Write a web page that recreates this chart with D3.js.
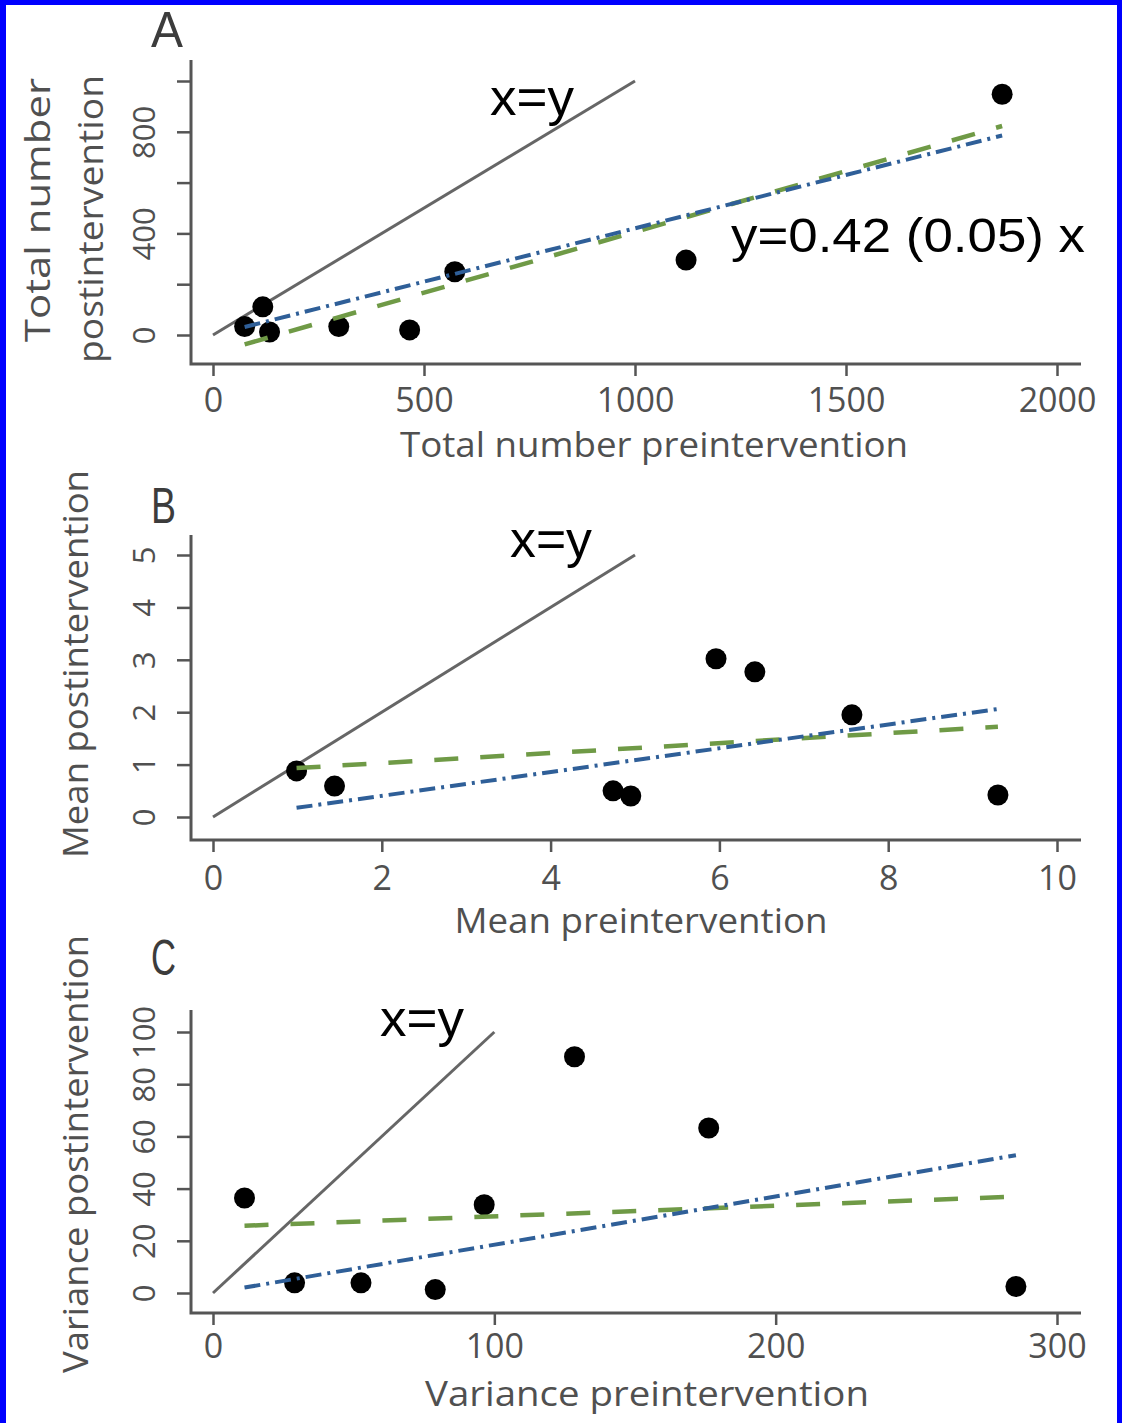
<!DOCTYPE html>
<html>
<head>
<meta charset="utf-8">
<script src="https://cdn.jsdelivr.net/npm/d3@7"></script>
<style>
  html, body { margin: 0; padding: 0; background: #fff; }
  svg { display: block; }
  text { font-family: "Open Sans", "DejaVu Sans", sans-serif; }
  .note { font-family: "Liberation Sans", Arial, sans-serif; fill: #000; }
  .letter { font-family: "Liberation Sans Narrow", "Liberation Sans", Arial, sans-serif; }
</style>
</head>
<body>
<svg id="chart" width="1122" height="1423"></svg>
<script>
// ---- Panel A: total number of events, before vs after ----
const totalPre  = [75, 118, 134, 298, 466, 573, 1121, 1870];
const totalPost = [33, 111, 12, 33, 20, 249, 295, 948];
const totalXTicks = [0, 500, 1000, 1500, 2000];
const totalYTicks = [0, 200, 400, 600, 800, 1000];
const totalYTickLabels = ["0", "", "400", "", "800", ""];
const totalFitBlue  = [0, 0.42];      // intercept, slope
const totalFitGreen = [-73, 0.479];

// ---- Panel B: mean ----
const meanPre  = [0.99, 1.44, 4.74, 4.95, 5.96, 6.42, 7.57, 9.30];
const meanPost = [0.88, 0.59, 0.50, 0.40, 3.02, 2.77, 1.95, 0.42];
const meanXTicks = [0, 2, 4, 6, 8, 10];
const meanYTicks = [0, 1, 2, 3, 4, 5];
const meanYTickLabels = ["0", "1", "2", "3", "4", "5"];
const meanFitBlue  = [-0.05, 0.227];
const meanFitGreen = [0.84, 0.095];

// ---- Panel C: variance ----
const varPre  = [11.2, 29.0, 52.6, 79.0, 96.4, 128.5, 176.2, 285.4];
const varPost = [36.4, 3.9, 3.9, 1.3, 33.8, 90.5, 63.2, 2.5];
const varXTicks = [0, 100, 200, 300];
const varYTicks = [0, 20, 40, 60, 80, 100];
const varYTickLabels = ["0", "20", "40", "60", "80", "100"];
const varFitBlue  = [0, 0.185];
const varFitGreen = [25.3, 0.0407];

const svg = d3.select("#chart");
const AXIS = "#555", TEXT = "#505050";
const GREEN = "#6f9a46", BLUE = "#2f5f98";

// frame
svg.append("rect").attr("x", 0).attr("y", 0).attr("width", 1122).attr("height", 1423).attr("fill", "#fff");
svg.append("rect").attr("x", 0).attr("y", 0).attr("width", 6).attr("height", 1423).attr("fill", "#0000ff");
svg.append("rect").attr("x", 0).attr("y", 0).attr("width", 1122).attr("height", 5).attr("fill", "#0000ff");
svg.append("rect").attr("x", 1117).attr("y", 0).attr("width", 5).attr("height", 1423).attr("fill", "#0000ff");

const panels = [
  { letter: "A", letterY: 47, letterW: 32,
    pre: totalPre, post: totalPost, xMax: 2000, yMax: 1000,
    xTicks: totalXTicks, yTicks: totalYTicks, yLabels: totalYTickLabels,
    blue: totalFitBlue, green: totalFitGreen,
    top: 60, bottom: 364, y0: 335, y1: 81, xLabY: 412,
    xTitle: "Total number preintervention", xTitleX: 654, xTitleY: 457, xTitleW: 508,
    yTitles: [["Total number", 50, 210, 264], ["postintervention", 103, 219, 288]],
    idLabel: [490, 115, 84], eq: ["y=0.42 (0.05) x", 731, 252, 354] },
  { letter: "B", letterY: 523, letterW: 25,
    pre: meanPre, post: meanPost, xMax: 10, yMax: 5,
    xTicks: meanXTicks, yTicks: meanYTicks, yLabels: meanYTickLabels,
    blue: meanFitBlue, green: meanFitGreen,
    top: 535, bottom: 840, y0: 817, y1: 555, xLabY: 890,
    xTitle: "Mean preintervention", xTitleX: 641, xTitleY: 933, xTitleW: 373,
    yTitles: [["Mean postintervention", 88, 664, 388]],
    idLabel: [510, 557, 82], eq: null },
  { letter: "C", letterY: 975, letterW: 25,
    pre: varPre, post: varPost, xMax: 300, yMax: 100,
    xTicks: varXTicks, yTicks: varYTicks, yLabels: varYTickLabels,
    blue: varFitBlue, green: varFitGreen,
    top: 1010, bottom: 1313, y0: 1293, y1: 1032, xLabY: 1358,
    xTitle: "Variance preintervention", xTitleX: 647, xTitleY: 1406, xTitleW: 444,
    yTitles: [["Variance postintervention", 88, 1154, 438]],
    idLabel: [380, 1036, 84], eq: null }
];

const LEFT = 191, RIGHT = 1081;

panels.forEach(p => {
  const g = svg.append("g");
  const x = d3.scaleLinear().domain([0, p.xMax]).range([213, 1057]);
  const y = d3.scaleLinear().domain([0, p.yMax]).range([p.y0, p.y1]);

  // L-shaped frame
  g.append("path")
    .attr("d", `M${LEFT},${p.top}V${p.bottom}H${RIGHT}`)
    .attr("fill", "none").attr("stroke", AXIS).attr("stroke-width", 3);

  // y axis ticks + rotated labels
  const yAxis = g.append("g").attr("transform", `translate(${LEFT},0)`)
    .call(d3.axisLeft(y).tickValues(p.yTicks).tickSize(14)
      .tickFormat((d, i) => p.yLabels[i]));
  yAxis.select(".domain").remove();
  yAxis.selectAll(".tick line").attr("stroke", AXIS).attr("stroke-width", 2.5);
  yAxis.selectAll(".tick text")
    .attr("x", null).attr("dy", null)
    .attr("transform", "translate(-36,0) rotate(-90)")
    .attr("text-anchor", "middle")
    .attr("fill", TEXT).style("font-size", "31px");

  // x axis ticks + labels
  const xAxis = g.append("g").attr("transform", `translate(0,${p.bottom})`)
    .call(d3.axisBottom(x).tickValues(p.xTicks).tickSize(12).tickFormat(d3.format("d")));
  xAxis.select(".domain").remove();
  xAxis.selectAll(".tick line").attr("stroke", AXIS).attr("stroke-width", 2.5);
  xAxis.selectAll(".tick text")
    .attr("y", p.xLabY - p.bottom).attr("dy", null)
    .attr("fill", TEXT).style("font-size", "34px");

  // axis titles
  g.append("text").text(p.xTitle)
    .attr("x", p.xTitleX).attr("y", p.xTitleY)
    .attr("text-anchor", "middle").attr("fill", TEXT).style("font-size", "35px")
    .attr("textLength", p.xTitleW).attr("lengthAdjust", "spacingAndGlyphs");
  p.yTitles.forEach(([t, bx, cy, len]) => {
    g.append("text").text(t)
      .attr("transform", `translate(${bx},${cy}) rotate(-90)`)
      .attr("text-anchor", "middle").attr("fill", TEXT).style("font-size", "35px")
      .attr("textLength", len).attr("lengthAdjust", "spacingAndGlyphs");
  });

  // panel letter
  g.append("text").attr("class", "letter").text(p.letter)
    .attr("x", 151).attr("y", p.letterY)
    .attr("fill", "#3c3c3c").style("font-size", "50px")
    .attr("textLength", p.letterW).attr("lengthAdjust", "spacingAndGlyphs");

  // identity line from the origin to the top of the y range
  g.append("line")
    .attr("x1", x(0)).attr("y1", y(0))
    .attr("x2", x(p.yMax)).attr("y2", y(p.yMax))
    .attr("stroke", "#666").attr("stroke-width", 3);

  // observations
  const pts = p.pre.map((v, i) => [v, p.post[i]]);
  g.selectAll("circle.obs").data(pts).join("circle")
    .attr("class", "obs")
    .attr("cx", d => x(d[0])).attr("cy", d => y(d[1]))
    .attr("r", 10.5).attr("fill", "#000");

  // fitted lines across the observed range
  const xr = d3.extent(p.pre);
  const fit = (c) => xr.map(v => [v, c[0] + c[1] * v]);
  const line = d3.line().x(d => x(d[0])).y(d => y(d[1]));
  g.append("path").attr("d", line(fit(p.green)))
    .attr("fill", "none").attr("stroke", GREEN).attr("stroke-width", 4.5)
    .attr("stroke-dasharray", "24,22");
  g.append("path").attr("d", line(fit(p.blue)))
    .attr("fill", "none").attr("stroke", BLUE).attr("stroke-width", 4)
    .attr("stroke-dasharray", "16,6,3,6");

  // annotations
  g.append("text").attr("class", "note").text("x=y")
    .attr("x", p.idLabel[0]).attr("y", p.idLabel[1])
    .style("font-size", "52px")
    .attr("textLength", p.idLabel[2]).attr("lengthAdjust", "spacingAndGlyphs");
  if (p.eq) {
    g.append("text").attr("class", "note").text(p.eq[0])
      .attr("x", p.eq[1]).attr("y", p.eq[2])
      .style("font-size", "48px")
      .attr("textLength", p.eq[3]).attr("lengthAdjust", "spacingAndGlyphs");
  }
});
</script>
</body>
</html>
